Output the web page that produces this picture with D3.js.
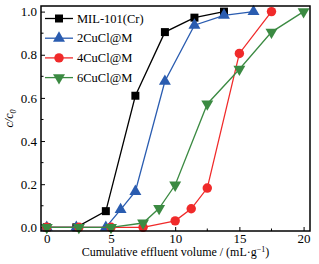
<!DOCTYPE html>
<html lang="en">
<head>
  <meta charset="UTF-8">
  <title>Breakthrough curves</title>
  <script src="https://d3js.org/d3.v7.min.js"></script>
  <style>
    html, body {
      margin: 0;
      background-color: #ffffff;
    }
    svg { display: block; }
    svg text {
      font-family: "Liberation Serif", Tinos, "Times New Roman", Times, "DejaVu Serif", serif !important;
    }
  </style>
</head>
<body>
  <div id="chart"></div>

  <script type="text/javascript">
    const seriesNames = ['MIL-101(Cr)', '2CuCl@M', '4CuCl@M', '6CuCl@M']

    const milX = [0, 2.3, 4.6, 6.9, 9.2, 11.5, 13.8]
    const milY = [0, 0, 0.075, 0.61, 0.905, 0.972, 1.0]

    const cu2X = [0, 2.3, 4.6, 5.75, 6.9, 9.2, 11.5, 13.8, 16.1]
    const cu2Y = [0, 0, 0, 0.082, 0.166, 0.677, 0.937, 0.983, 1.0]

    const cu4X = [0, 2.5, 5, 7.5, 10, 11.25, 12.5, 15, 17.5]
    const cu4Y = [0, 0, 0, 0, 0.03, 0.086, 0.182, 0.806, 1.0]

    const cu6X = [0, 2.5, 5, 7.5, 8.75, 10, 12.5, 15, 17.5, 20]
    const cu6Y = [0, 0, 0, 0.02, 0.088, 0.196, 0.572, 0.733, 0.905, 1.0]

    const xTicks = [0, 5, 10, 15, 20]
    const yTicks = [0, 0.2, 0.4, 0.6, 0.8, 1.0]

    const colors = ['#000000', '#2a5cb0', '#f02a2a', '#3b8a42']
    const symbols = [d3.symbolSquare, d3.symbolTriangle, d3.symbolCircle, 'down']
    const symbolSizes = [64, 62, 70, 62]

    const series = [
      [milX, milY], [cu2X, cu2Y], [cu4X, cu4Y], [cu6X, cu6Y]
    ].map((s, i) => ({
      name: seriesNames[i],
      color: colors[i],
      symbol: symbols[i],
      size: symbolSizes[i],
      points: s[0].map((x, j) => ({ x: x, y: s[1][j] }))
    }))

    const width = 319
    const height = 264
    const margin = { top: 6, right: 9, bottom: 33, left: 41 }

    const svg = d3.select('#chart').append('svg')
      .attr('width', width)
      .attr('height', height)

    const x = d3.scaleLinear()
      .domain([-0.45, 20.5])
      .range([margin.left, width - margin.right])

    const y = d3.scaleLinear()
      .domain([-0.017, 1.026])
      .range([height - margin.bottom, margin.top])

    const symbolGen = (s) => {
      const type = s.symbol === 'down' ? d3.symbolTriangle : s.symbol
      return d3.symbol().type(type).size(s.size)()
    }

    // ticks point inward
    const tickLen = 4
    const minorLen = 2.5

    const xAxis = d3.axisBottom(x).tickValues(xTicks).tickSizeInner(-tickLen).tickSizeOuter(0).tickPadding(3)
    const yAxis = d3.axisLeft(y).tickValues(yTicks).tickFormat(d3.format('.1f')).tickSizeInner(-tickLen).tickSizeOuter(0).tickPadding(4)

    const gx = svg.append('g')
      .attr('transform', `translate(0,${height - margin.bottom})`)
      .call(xAxis)
    const gy = svg.append('g')
      .attr('transform', `translate(${margin.left},0)`)
      .call(yAxis)

    ;[gx, gy].forEach(g => {
      g.attr('font-family', null)
      g.select('.domain').remove()
      g.selectAll('line').attr('stroke', '#000').attr('stroke-width', 1)
      g.selectAll('text')
        .attr('fill', '#000')
        .style('font-size', '13px')
    })

    svg.append('g')
      .selectAll('line')
      .data([2.5, 7.5, 12.5, 17.5])
      .enter()
      .append('line')
      .attr('x1', d => x(d))
      .attr('x2', d => x(d))
      .attr('y1', height - margin.bottom)
      .attr('y2', height - margin.bottom - minorLen)
      .attr('stroke', '#000')

    svg.append('g')
      .selectAll('line')
      .data([0.1, 0.3, 0.5, 0.7, 0.9])
      .enter()
      .append('line')
      .attr('x1', margin.left)
      .attr('x2', margin.left + minorLen)
      .attr('y1', d => y(d))
      .attr('y2', d => y(d))
      .attr('stroke', '#000')

    // series
    const line = d3.line().x(d => x(d.x)).y(d => y(d.y))

    const g = svg.selectAll('.series')
      .data(series)
      .enter()
      .append('g')
      .attr('class', 'series')

    g.append('path')
      .attr('d', d => line(d.points))
      .attr('fill', 'none')
      .attr('stroke', d => d.color)
      .attr('stroke-width', 1.3)

    g.selectAll('.pt')
      .data(d => d.points.map(p => Object.assign({ s: d }, p)))
      .enter()
      .append('path')
      .attr('class', 'pt')
      .attr('d', d => symbolGen(d.s))
      .attr('fill', d => d.s.color)
      .attr('transform', d => `translate(${x(d.x)},${y(d.y)})` + (d.s.symbol === 'down' ? ' rotate(180)' : ''))

    // frame
    svg.append('rect')
      .attr('x', margin.left)
      .attr('y', margin.top)
      .attr('width', width - margin.left - margin.right)
      .attr('height', height - margin.top - margin.bottom)
      .attr('fill', 'none')
      .attr('stroke', '#000')
      .attr('stroke-width', 1.5)

    // legend
    const legend = svg.append('g')
      .selectAll('g')
      .data(series)
      .enter()
      .append('g')
      .attr('transform', (d, i) => `translate(45,${18.5 + i * 19.7})`)

    legend.append('line')
      .attr('x1', 0)
      .attr('x2', 28)
      .attr('stroke', d => d.color)
      .attr('stroke-width', 1.3)

    legend.append('path')
      .attr('d', d => symbolGen(d))
      .attr('fill', d => d.color)
      .attr('transform', d => 'translate(14,0)' + (d.symbol === 'down' ? ' rotate(180)' : ''))

    legend.append('text')
      .attr('x', 32)
      .attr('y', 4)
      .style('font-size', '12.5px')
      .text(d => d.name)

    // axis titles
    svg.append('text')
      .attr('x', (margin.left + width - margin.right) / 2)
      .attr('y', 256)
      .attr('text-anchor', 'middle')
      .style('font-size', '12px')
      .html('Cumulative effluent volume / (mL·g<tspan dy="-4" font-size="8px">−1</tspan><tspan dy="4">)</tspan>')

    svg.append('text')
      .attr('transform', `translate(13,${(margin.top + height - margin.bottom) / 2}) rotate(-90)`)
      .attr('text-anchor', 'middle')
      .style('font-size', '12px')
      .style('font-style', 'italic')
      .html('c/c<tspan dy="3" font-size="8px">0</tspan>')
  </script>
</body>
</html>
